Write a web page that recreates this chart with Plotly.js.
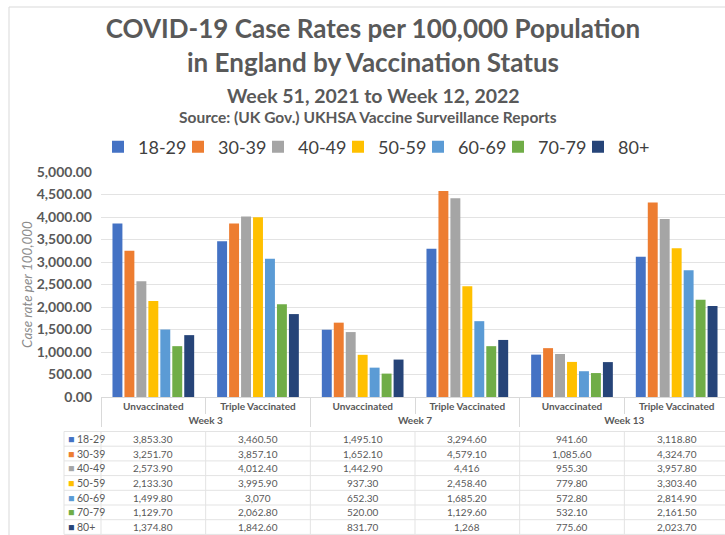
<!DOCTYPE html>
<html>
<head>
<meta charset="utf-8">
<script src="https://cdn.plot.ly/plotly-3.0.1.min.js"></script>
<style>
html,body{margin:0;padding:0;overflow:hidden;background:#ffffff}
#chart{width:729px;height:535px}
</style>
</head>
<body>
<div id="chart"></div>
<script>
// ---- data ----
const weeks = ['Week 3', 'Week 3', 'Week 7', 'Week 7', 'Week 13', 'Week 13'];
const statuses = ['Unvaccinated', 'Triple Vaccinated', 'Unvaccinated', 'Triple Vaccinated', 'Unvaccinated', 'Triple Vaccinated'];
const ageGroups = ['18-29', '30-39', '40-49', '50-59', '60-69', '70-79', '80+'];
const rate18to29 = [3853.30, 3460.50, 1495.10, 3294.60, 941.60, 3118.80];
const rate30to39 = [3251.70, 3857.10, 1652.10, 4579.10, 1085.60, 4324.70];
const rate40to49 = [2573.90, 4012.40, 1442.90, 4416, 955.30, 3957.80];
const rate50to59 = [2133.30, 3995.90, 937.30, 2458.40, 779.80, 3303.40];
const rate60to69 = [1499.80, 3070, 652.30, 1685.20, 572.80, 2814.90];
const rate70to79 = [1129.70, 2062.80, 520.00, 1129.60, 532.10, 2161.50];
const rate80plus = [1374.80, 1842.60, 831.70, 1268, 775.60, 2023.70];
// table cells that the source table shows without decimals: [series index, column index]
const cellsWithoutDecimals = [[4, 1], [2, 3], [6, 3]];

const seriesValues = [rate18to29, rate30to39, rate40to49, rate50to59, rate60to69, rate70to79, rate80plus];
const colors = ['#4472C4', '#ED7D31', '#A5A5A5', '#FFC000', '#5B9BD5', '#70AD47', '#264478'];

// ---- geometry helpers (pixel -> paper) ----
const W = 729, H = 535;
const L = 101, T = 172, PB = 397;
const PW = W - L, PH = PB - T;
const px2x = p => (p - L) / PW;
const px2y = p => (PB - p) / PH;

const FONT = 'Lato, "Open Sans", sans-serif';
const GREY = '#595959';

const traces = seriesValues.map((vals, i) => ({
  type: 'bar',
  name: ageGroups[i],
  x: [weeks, statuses],
  y: vals,
  marker: {color: colors[i]},
  hoverinfo: 'skip'
}));

function fmt(v, i, j) {
  const noDec = cellsWithoutDecimals.some(c => c[0] === i && c[1] === j);
  return v.toLocaleString('en-US', {minimumFractionDigits: noDec ? 0 : 2, maximumFractionDigits: noDec ? 0 : 2});
}

const annotations = [];
const shapes = [];

annotations.push({
  xref: 'paper', yref: 'paper', x: px2x(373), y: px2y(95), xanchor: 'center', yanchor: 'middle',
  text: 'Week 51, 2021 to Week 12, 2022', showarrow: false,
  font: {family: FONT, size: 19.5, color: GREY, weight: 'bold'}
});
annotations.push({
  xref: 'paper', yref: 'paper', x: px2x(368), y: px2y(117), xanchor: 'center', yanchor: 'middle',
  text: 'Source: (UK Gov.) UKHSA Vaccine Surveillance Reports', showarrow: false,
  font: {family: FONT, size: 15.5, color: GREY, weight: 'bold'}
});

// data table below the axis
const rowTop = 431.5, rowH = 14.7;
const nCols = statuses.length;
seriesValues.forEach((vals, i) => {
  const cy = rowTop + rowH * (i + 0.5);
  annotations.push({
    xref: 'paper', yref: 'paper', x: px2x(66), y: px2y(cy), xanchor: 'left', yanchor: 'middle',
    text: '<span style="color:' + colors[i] + '">■</span> ' + ageGroups[i], showarrow: false,
    font: {family: FONT, size: 10.5, color: GREY}
  });
  vals.forEach((v, j) => {
    annotations.push({
      xref: 'paper', yref: 'paper', x: (j + 0.5) / nCols, y: px2y(cy), xanchor: 'center', yanchor: 'middle',
      text: fmt(v, i, j), showarrow: false,
      font: {family: FONT, size: 10, color: GREY}
    });
  });
});
for (let k = 0; k <= seriesValues.length; k++) {
  const y = px2y(rowTop + rowH * k);
  shapes.push({type: 'line', xref: 'paper', yref: 'paper', x0: px2x(64), x1: 1.02, y0: y, y1: y,
    line: {color: '#e3e3e3', width: 1}});
}
shapes.push({type: 'line', xref: 'paper', yref: 'paper', x0: px2x(64), x1: px2x(64), y0: px2y(rowTop), y1: px2y(rowTop + rowH * 7),
  line: {color: '#e3e3e3', width: 1}});
for (let j = 0; j <= nCols; j++) {
  shapes.push({type: 'line', xref: 'paper', yref: 'paper', x0: j / nCols, x1: j / nCols, y0: px2y(rowTop), y1: px2y(rowTop + rowH * 7),
    line: {color: '#e3e3e3', width: 1}});
}
// chart border
shapes.push({type: 'rect', xref: 'paper', yref: 'paper', x0: px2x(9), x1: px2x(760), y0: px2y(7), y1: px2y(560),
  line: {color: '#d9d9d9', width: 1}});

const layout = {
  width: W, height: H,
  margin: {l: L, r: 0, t: T, b: H - PB, pad: 0, autoexpand: false},
  paper_bgcolor: '#ffffff', plot_bgcolor: '#ffffff',
  font: {family: FONT, color: GREY},
  title: {
    text: 'COVID-19 Case Rates per 100,000 Population<br>in England by Vaccination Status',
    font: {family: FONT, size: 26, color: GREY, weight: 'bold'},
    xref: 'container', yref: 'container', x: 373 / W, y: 1 - 38 / H, xanchor: 'center', yanchor: 'top'
  },
  showlegend: true,
  legend: {
    orientation: 'h', xref: 'container', yref: 'container',
    x: 378 / W, xanchor: 'center', y: 1 - 147 / H, yanchor: 'middle',
    font: {family: FONT, size: 18, color: '#404040'},
    entrywidth: 35, entrywidthmode: 'pixels', traceorder: 'normal'
  },
  barmode: 'group', bargap: 0.2, bargroupgap: 0.17,
  xaxis: {
    type: 'multicategory',
    showdividers: true, dividercolor: '#d9d9d9', dividerwidth: 1,
    ticks: 'outside', ticklen: 16, tickcolor: '#d9d9d9',
    tickfont: {family: FONT, size: 10, color: GREY, weight: 'bold'},
    showline: true, linecolor: '#d9d9d9', showgrid: false
  },
  yaxis: {
    range: [0, 5000], dtick: 500, tickformat: ',.2f',
    gridcolor: '#e3e3e3', zeroline: false, ticks: '',
    ticklabelstandoff: 8,
    tickfont: {family: FONT, size: 14, color: GREY, weight: 'bold'},
    title: {text: 'Case rate per 100,000', standoff: 0,
      font: {family: FONT, size: 13.5, color: '#8c8c8c', style: 'italic'}}
  },
  annotations: annotations,
  shapes: shapes
};

Plotly.newPlot('chart', traces, layout, {displayModeBar: false, staticPlot: true});
</script>
</body>
</html>
